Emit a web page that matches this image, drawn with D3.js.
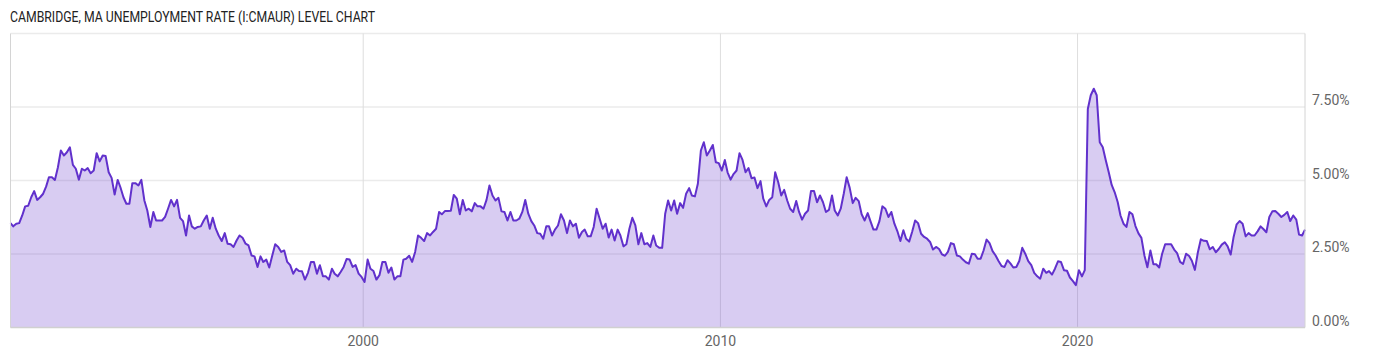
<!DOCTYPE html>
<html>
<head>
<meta charset="utf-8">
<script src="https://cdn.jsdelivr.net/npm/d3@7"></script>
<style>
  html, body { margin: 0; padding: 0; background: #fff; }
  svg { display: block; }
</style>
</head>
<body>
<script>
// ---- data ----
const title = "CAMBRIDGE, MA UNEMPLOYMENT RATE (I:CMAUR) LEVEL CHART";
const startYear = 1990;      // first observation month (0-based month index)
const startMonth = 1;
// monthly unemployment rate, %
const values = [
  3.55,3.44,3.53,3.55,3.81,4.12,4.14,4.43,4.64,4.34,4.43,4.55,
  4.80,5.11,5.11,5.02,5.45,6.02,5.85,5.96,6.13,5.53,5.40,5.03,
  5.40,5.34,5.42,5.25,5.34,5.93,5.65,5.85,5.83,5.28,5.09,4.52,
  5.02,4.77,4.43,4.21,4.21,4.91,4.91,4.83,5.02,4.32,3.98,3.42,
  3.93,3.64,3.64,3.64,3.76,4.04,4.34,4.12,4.34,3.73,3.62,3.13,
  3.81,3.44,3.36,3.42,3.44,3.64,3.81,3.36,3.73,3.36,3.13,2.94,
  3.21,2.85,2.83,2.74,2.96,3.13,3.05,2.85,2.79,2.45,2.42,2.06,
  2.42,2.23,2.31,2.04,2.45,2.83,2.74,2.57,2.62,2.23,2.12,1.83,
  2.00,1.92,1.91,1.63,1.86,2.23,2.23,1.83,2.12,1.74,1.74,1.63,
  2.00,1.83,1.74,1.89,2.06,2.33,2.31,2.06,2.12,1.83,1.72,1.55,
  2.31,2.00,1.92,1.63,1.78,2.23,2.23,1.86,2.04,1.63,1.74,1.74,
  2.31,2.34,2.44,2.23,2.57,3.13,3.05,2.94,3.21,3.13,3.25,3.36,
  3.93,3.85,3.96,3.96,3.97,4.51,4.38,3.85,4.34,3.98,4.04,3.95,
  4.23,4.12,4.12,4.04,4.34,4.83,4.49,4.32,4.41,3.95,3.93,3.64,
  3.93,3.64,3.64,3.70,3.93,4.34,3.87,3.62,3.47,3.21,3.19,3.02,
  3.44,3.44,3.13,3.33,3.47,3.85,3.64,3.21,3.64,3.44,3.53,3.05,
  3.25,3.33,3.10,3.10,3.42,4.04,3.70,3.36,3.53,3.06,3.33,2.96,
  3.33,3.13,2.76,2.83,3.36,3.73,3.47,2.83,3.21,2.83,2.87,2.74,
  3.13,2.79,2.71,2.71,3.87,4.32,3.98,4.32,3.87,4.23,4.07,4.55,
  4.74,4.49,4.46,4.89,6.02,6.30,5.85,6.02,6.21,5.62,5.59,5.34,
  5.70,5.28,5.03,5.22,5.34,5.93,5.70,5.28,5.42,5.08,5.10,4.74,
  4.98,4.38,4.12,4.34,4.43,5.28,4.94,4.49,4.68,4.32,4.04,3.93,
  4.30,3.93,3.67,3.87,3.98,4.64,4.64,4.26,4.49,4.26,3.93,4.00,
  4.49,3.98,3.81,4.04,4.55,5.11,4.75,4.23,4.41,4.30,3.85,3.64,
  3.89,3.62,3.33,3.33,3.62,4.12,4.04,3.76,3.93,3.53,3.28,2.94,
  3.31,3.02,2.92,3.25,3.64,3.55,3.19,3.08,3.02,2.91,2.65,2.74,
  2.67,2.49,2.44,2.57,2.87,2.83,2.45,2.42,2.31,2.22,2.17,2.51,
  2.49,2.34,2.34,2.62,2.99,2.87,2.60,2.45,2.26,2.09,2.06,2.29,
  2.17,2.04,2.06,2.26,2.71,2.51,2.26,2.12,1.86,1.74,1.66,2.00,
  1.86,1.92,1.80,2.00,2.25,2.23,1.95,1.93,1.70,1.58,1.44,1.95,
  1.74,1.95,7.43,7.90,8.12,7.90,6.30,6.13,5.70,5.28,4.85,4.60,
  4.26,3.81,3.53,3.42,3.93,3.85,3.45,3.20,3.05,2.45,2.05,2.62,
  2.15,2.15,2.04,2.51,2.83,2.83,2.83,2.65,2.53,2.23,2.16,2.51,
  2.43,2.27,1.96,2.55,3.00,2.95,2.94,2.66,2.74,2.56,2.67,2.82,
  2.90,2.76,2.48,3.08,3.51,3.62,3.53,3.10,3.21,3.13,3.13,3.27,
  3.44,3.35,3.24,3.76,3.95,3.96,3.87,3.76,3.83,3.93,3.62,3.81,
  3.67,3.16,3.13,3.33
];
const yTicks = [0, 2.5, 5, 7.5];
const yTickLabels = ["0.00%", "2.50%", "5.00%", "7.50%"];
const xTickYears = [2000, 2010, 2020];
const xTickLabels = ["2000", "2010", "2020"];

// ---- build ----
const W = 1400, H = 357;
const plot = { left: 10.5, right: 1305, top: 33.5, bottom: 327.5 };

const data = values.map((v, i) => ({
  date: new Date(startYear, startMonth + i, 15),
  value: v
}));

const svg = d3.select("body").append("svg")
  .attr("width", W).attr("height", H)
  .style("font-family", "Roboto, 'Open Sans', sans-serif");

const x = d3.scaleTime()
  .domain(d3.extent(data, d => d.date))
  .range([plot.left, plot.right]);
const y = d3.scaleLinear()
  .domain([0, 10])
  .range([plot.bottom, plot.top]);

// title
svg.append("text")
  .attr("x", 10).attr("y", 21.5)
  .attr("font-size", 14)
  .attr("fill", "#222")
  .attr("textLength", 365)
  .attr("lengthAdjust", "spacingAndGlyphs")
  .text(title);

// horizontal grid
svg.append("g").selectAll("line")
  .data([2.5, 5, 7.5, 10])
  .join("line")
  .attr("x1", plot.left).attr("x2", plot.right)
  .attr("y1", d => y(d)).attr("y2", d => y(d))
  .attr("stroke", "#ebebeb").attr("stroke-width", 1.5);

// vertical grid
const yearDates = xTickYears.map(yr => new Date(yr, 0, 1));
svg.append("g").selectAll("line")
  .data(yearDates)
  .join("line")
  .attr("x1", d => x(d)).attr("x2", d => x(d))
  .attr("y1", plot.top).attr("y2", plot.bottom)
  .attr("stroke", "#dedede").attr("stroke-width", 1);

// area
const area = d3.area()
  .x(d => x(d.date))
  .y0(y(0))
  .y1(d => y(d.value));
svg.append("path")
  .datum(data)
  .attr("d", area)
  .attr("fill", "rgb(103,58,205)")
  .attr("fill-opacity", 0.26);

// line
const line = d3.line()
  .x(d => x(d.date))
  .y(d => y(d.value));
svg.append("path")
  .datum(data)
  .attr("d", line)
  .attr("fill", "none")
  .attr("stroke", "#6131cc")
  .attr("stroke-width", 2)
  .attr("stroke-linejoin", "round");

// frame
svg.append("line")
  .attr("x1", plot.left).attr("x2", plot.left)
  .attr("y1", plot.top).attr("y2", plot.bottom)
  .attr("stroke", "#d4d4d4").attr("stroke-width", 1);
svg.append("line")
  .attr("x1", plot.right).attr("x2", plot.right)
  .attr("y1", plot.top).attr("y2", plot.bottom)
  .attr("stroke", "#d4d4d4").attr("stroke-width", 1);
svg.append("line")
  .attr("x1", plot.left).attr("x2", plot.right)
  .attr("y1", plot.bottom).attr("y2", plot.bottom)
  .attr("stroke", "#d0d0d0").attr("stroke-width", 1.5);

// y labels
svg.append("g").selectAll("text")
  .data(yTicks)
  .join("text")
  .attr("x", 1312)
  .attr("y", d => y(d) - 2)
  .attr("font-size", 14)
  .attr("fill", "#666")
  .text((d, i) => yTickLabels[i]);

// x labels
svg.append("g").selectAll("text")
  .data(yearDates)
  .join("text")
  .attr("x", d => x(d))
  .attr("y", 346)
  .attr("text-anchor", "middle")
  .attr("font-size", 14)
  .attr("fill", "#666")
  .text((d, i) => xTickLabels[i]);
</script>
</body>
</html>
